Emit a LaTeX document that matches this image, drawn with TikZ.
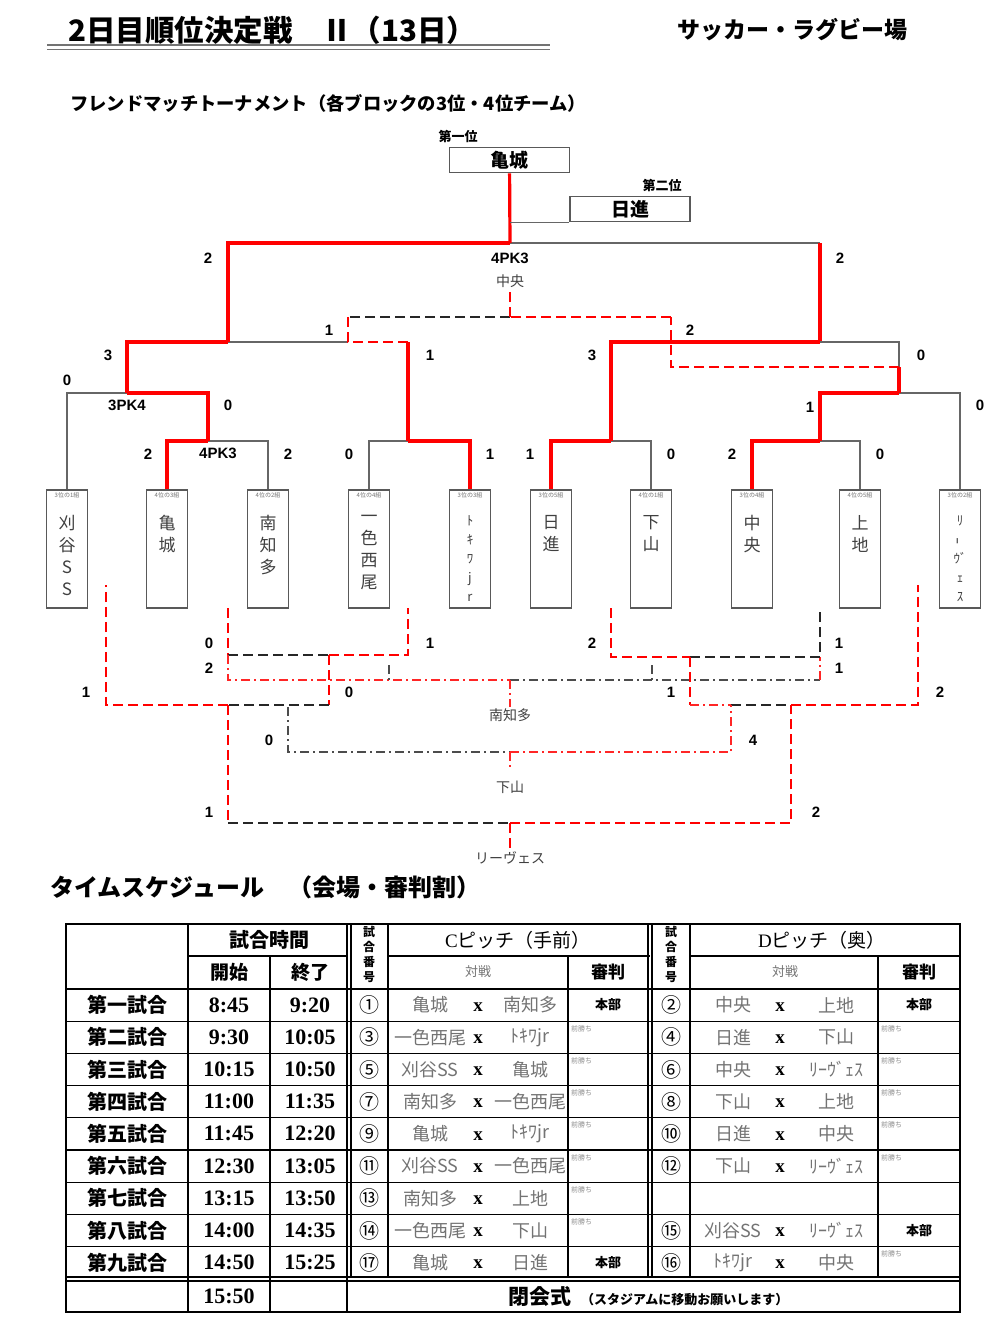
\documentclass[tikz,border=0pt]{standalone}
\usepackage{fontspec}
\setmainfont{Noto Sans CJK JP}
\newfontfamily\numfont{Liberation Sans}
\newfontfamily\timefont{Liberation Serif}
\usetikzlibrary{positioning,calc}
\newcommand\fsz[1]{\fontsize{#1}{#1}\selectfont}
\tikzset{%
  win/.style={red, line width=3.2pt},
  loss/.style={black!60, line width=1.2pt},
  rdash/.style={red, line width=2.4pt, dash pattern=on 10pt off 5pt},
  kdash/.style={black!85, line width=2.4pt, dash pattern=on 10pt off 5pt},
  rdot/.style={red!85, line width=1.3pt, dash pattern=on 9pt off 4pt on 2pt off 4pt},
  kdot/.style={black!70, line width=1.3pt, dash pattern=on 9pt off 4pt on 2pt off 4pt},
  team/.style={draw=black!65, line width=1.6pt, minimum width=41pt, minimum height=118pt, inner sep=0pt},
  tagtext/.style={font=\fsz{6}, text=black!55, inner sep=0pt},
  tname/.style={align=center, text=black!75, inner sep=0pt},
  rank/.style={draw=black!65, line width=1.6pt, minimum width=120pt, minimum height=25pt, inner sep=0pt, font=\fsz{19}\bfseries},
  ranklab/.style={font=\fsz{13}\bfseries, inner sep=0pt},
  score/.style={font=\numfont\bfseries\fsz{15}, inner sep=0pt},
  winner/.style={font=\fsz{14}, text=black!75, inner sep=1pt},
  head/.style={font=\fsz{19}\bfseries, inner sep=0pt},
  cell/.style={inner sep=0pt},
  team cell/.style={font=\fsz{18}, text=black!55, inner sep=0pt},
  vs/.style={font=\timefont\bfseries\fsz{19}, inner sep=0pt},
  boss/.style={font=\fsz{13}\bfseries, inner sep=0pt},
  prev/.style={font=\fsz{7}, text=black!45, inner sep=0pt, anchor=north west},
}

\begin{document}
\begin{tikzpicture}[x=1pt, y=-1pt]
\useasboundingbox (0,0) rectangle (992,1328);

% titles
\node[anchor=west, font=\fsz{29.5}\bfseries, inner sep=0pt] (title) at (68,30) {2日目順位決定戦　Ⅱ（13日）};
\draw[black!55, line width=1.8pt] (47,45) -- (550,45) (47,49.5) -- (550,49.5);
\node[anchor=west, font=\fsz{23}\bfseries, inner sep=0pt] (venue) at (677,30) {サッカー・ラグビー場};
\node[anchor=west, font=\fsz{18.3}\bfseries, inner sep=0pt] (sub) at (70,103) {フレンドマッチトーナメント（各ブロックの3位・4位チーム）};

% final ranking
\node[rank] (first) at (509.5,160) {亀城};
\node[ranklab] (firstlab) at (458,136) {第一位};
\node[rank] (second) at (630,209) {日進};
\node[ranklab] (secondlab) at (662,185) {第二位};

% teams
\foreach \x/\tg/\tn/\sz/\sk [count=\i] in {
  67/3位の1組/{刈\\谷\\S\\S}/17/22,
  167/4位の3組/{亀\\城}/17/22,
  268/4位の2組/{南\\知\\多}/17/22,
  369/4位の4組/{一\\色\\西\\尾}/17/22,
  470/3位の3組/{ﾄ\\ｷ\\ﾜ\\j\\r}/13/19,
  551/3位の5組/{日\\進}/17/22,
  651/4位の1組/{下\\山}/17/22,
  752/3位の4組/{中\\央}/17/22,
  860/4位の5組/{上\\地}/17/22,
  960/3位の2組/{ﾘ\\\rotatebox{90}{ｰ}\\ｳﾞ\\ｪ\\ｽ}/13/19}
{
  \node[team] (t\i) at (\x,549) {};
  \node[tagtext] (g\i) at ([yshift=-6pt]t\i.north) {\tg};
  \node[tname, font=\fontsize{\sz}{\sk}\selectfont] (m\i) [below=26pt of t\i.north] {\tn};
}

% upper bracket
\coordinate (a1) at (208,441);
\coordinate (a2) at (408,441);
\coordinate (a3) at (611,441);
\coordinate (a4) at (820,441);
\coordinate (b1) at (127,393);
\coordinate (b2) at (899,393);
\coordinate (c1) at (228,342);
\coordinate (c1r) at (348,342);
\coordinate (c2) at (820,342);
\coordinate (d1) at (510,243);
\coordinate (e1) at (510,317);
\coordinate (f1) at (899,367);
\coordinate (g1) at (671,317);

\draw[loss] (t1.north) |- (b1);
\draw[win] (t2.north) |- (a1);
\draw[loss] (t3.north) |- (a1);
\draw[win] (a1) |- (b1);
\draw[win] (b1) |- (c1);
\draw[loss] (c1) -- (c1r);
\draw[loss] (t4.north) |- (a2);
\draw[win] (t5.north) |- (a2);
\draw[win] (a2) -- (a2 |- c1);
\draw[win] (c1) |- (d1);
\draw[loss] (d1) -- (d1 -| c2);
\draw[win] (d1 -| c2) -- (c2);
\draw[win] (d1) -- (first);
\draw[loss] (second.south west) -- (second.south west -| d1);
\draw[win] (t6.north) |- (a3);
\draw[loss] (t7.north) |- (a3);
\draw[win] (a3) |- (c2);
\draw[loss] (c2) -| (f1);
\draw[win] (t8.north) |- (a4);
\draw[loss] (t9.north) |- (a4);
\draw[win] (a4) |- (b2);
\draw[loss] (b2) -| (t10.north);
\draw[win] (b2) -- (f1);

% third place
\node[winner] (third) at (510,281) {中央};
\draw[rdash] (f1) -| (g1);
\draw[rdash] (g1) -- (e1);
\draw[kdash] (e1) -- (c1r |- e1);
\draw[rdash] (c1r |- e1) -- (c1r) -- (a2 |- c1);
\draw[rdash] (e1) -- (third);

% lower bracket
\coordinate (u0) at (106,585);
\coordinate (u1) at (228,608);
\coordinate (u2) at (408,608);
\coordinate (u3) at (611,608);
\coordinate (u4) at (820,608);
\coordinate (u5) at (918,585);
\coordinate (h1) at (329,655);
\coordinate (h2) at (690,657);
\coordinate (n1) at (510,680);
\coordinate (j1) at (228,705);
\coordinate (k1) at (329,705);
\coordinate (k2) at (690,705);
\coordinate (k3) at (731,705);
\coordinate (k4) at (791,705);
\coordinate (q1) at (288,707);
\coordinate (n2) at (510,752);
\coordinate (n3) at (510,823);

\node[winner] (fifth) at (510,715) {南知多};
\node[winner] (seventh) at (510,787) {下山};
\node[winner] (ninth) at (510,858) {リーヴェス};

\draw[rdash] (u1) -- (u1 |- h1);
\draw[kdash] (u1 |- h1) -- (h1);
\draw[rdash] (h1) -| (u2);
\draw[rdot] (u1 |- h1) |- (n1);
\draw[kdot] (n1) -- (n1 -| u4);
\draw[rdot] (n1 -| u4) -- (u4 |- h2);
\draw[kdot] (389,665) -- (389,680);
\draw[kdot] (652,665) -- (652,680);
\draw[rdot] (n1) -- (fifth);
\draw[rdash] (u3) |- (h2);
\draw[kdash] (h2) -| (u4);
\draw[rdash] (h1) -- (k1);
\draw[kdash] (k1) -- (j1);
\draw[rdash] (j1) -| (u0);
\draw[rdash] (h2) -- (k2);
\draw[rdot] (k2) -- (k3);
\draw[kdash] (k3) -- (k4);
\draw[rdash] (k4) -| (u5);
\draw[kdot] (q1) |- (n2);
\draw[rdot] (n2) -| (k3);
\draw[rdot, shorten >=10pt] (n2) -- (seventh);
\draw[rdash] (j1) -- (j1 |- n3);
\draw[kdash] (j1 |- n3) -- (n3);
\draw[rdash] (n3) -| (k4);
\draw[rdash] (n3) -- (ninth);

% scores
\foreach \x/\y/\s [count=\i] in {208/258/2, 840/258/2, 510/258/4PK3, 329/330/1, 690/330/2,
  108/355/3, 430/355/1, 592/355/3, 921/355/0, 67/380/0, 127/405/3PK4, 228/405/0,
  810/407/1, 980/405/0, 148/454/2, 218/453/4PK3, 288/454/2, 349/454/0, 490/454/1,
  530/454/1, 671/454/0, 732/454/2, 880/454/0, 209/643/0, 430/643/1, 592/643/2,
  839/643/1, 209/668/2, 839/668/1, 86/692/1, 349/692/0, 671/692/1, 940/692/2,
  269/740/0, 753/740/4, 209/812/1, 816/812/2}
  \node[score] (s\i) at (\x,\y) {\s};

% time schedule
\node[anchor=west, font=\fsz{24}\bfseries, inner sep=0pt] (sched) at (50,887) {タイムスケジュール　（会場・審判割）};

\draw[line width=2.6pt] (66,924) rectangle (960,1312);
\draw[line width=1.3pt]
  (188,956) -- (348,956) (388,956) -- (650,956) (690,956) -- (960,956)
  (66,989) -- (960,989)
  \foreach \i in {1,...,8} { (66,{989+32.2*\i}) -- (960,{989+32.2*\i}) }
  (66,1277) -- (960,1277) (66,1281) -- (960,1281)
  (188,924) -- (188,1312) (270,956) -- (270,1312)
  (347,924) -- (347,1312) (351,924) -- (351,1277)
  (388,924) -- (388,1277) (568,956) -- (568,1277)
  (648,924) -- (648,1277) (652,924) -- (652,1277)
  (690,924) -- (690,1277) (878,956) -- (878,1277);

\node[head, font=\fsz{20}\bfseries] (hTime) at (269,940) {試合時間};
\node[head] (hStart) at (229,972) {開始};
\node[head] (hEnd) at (310,972) {終了};
\node[head, font=\fsz{19}] (hC) at (518,940) {{\timefont C}ピッチ（手前）};
\node[head, font=\fsz{19}] (hD) at (822,940) {{\timefont D}ピッチ（奥）};
\node[cell, font=\fsz{13}, text=black!55] (hCvs) at (478,972) {対戦};
\node[cell, font=\fsz{13}, text=black!55] (hDvs) at (785,972) {対戦};
\node[head, font=\fsz{17}\bfseries] (hCref) at (608,972) {審判};
\node[head, font=\fsz{17}\bfseries] (hDref) at (919,972) {審判};
\foreach \c/\y [count=\i] in {試/932, 合/947, 番/962, 号/977} {
  \node[cell, font=\fsz{12}\bfseries] (nc\i) at (369,\y) {\c};
  \node[cell, font=\fsz{12}\bfseries] (nd\i) at (671,\y) {\c};
}

\foreach \lab/\st/\en/\cno/\ta/\tb [count=\i] in {
  第一試合/8:45/9:20/①/亀城/南知多,
  第二試合/9:30/10:05/③/一色西尾/ﾄｷﾜjr,
  第三試合/10:15/10:50/⑤/刈谷SS/亀城,
  第四試合/11:00/11:35/⑦/南知多/一色西尾,
  第五試合/11:45/12:20/⑨/亀城/ﾄｷﾜjr,
  第六試合/12:30/13:05/⑪/刈谷SS/一色西尾,
  第七試合/13:15/13:50/⑬/南知多/上地,
  第八試合/14:00/14:35/⑭/一色西尾/下山,
  第九試合/14:50/15:25/⑰/亀城/日進}
{
  \pgfmathsetmacro\yy{1005+32.2*(\i-1)}
  \node[cell, font=\fsz{20}\bfseries] (row\i) at (127,\yy) {\lab};
  \node[cell, font=\timefont\bfseries\fsz{22}] (st\i) at (229,\yy) {\st};
  \node[cell, font=\timefont\bfseries\fsz{22}] (en\i) at (310,\yy) {\en};
  \node[cell, font=\fsz{20}] (cn\i) at (369,\yy) {\cno};
  \node[team cell] (ca\i) at (430,\yy) {\ta};
  \node[vs] (cx\i) at (478,\yy+2) {x};
  \node[team cell] (cb\i) at (530,\yy) {\tb};
}

\foreach \i/\cno/\ta/\tb in {1/②/中央/上地, 2/④/日進/下山, 3/⑥/中央/ﾘｰｳﾞｪｽ,
  4/⑧/下山/上地, 5/⑩/日進/中央, 6/⑫/下山/ﾘｰｳﾞｪｽ, 8/⑮/刈谷SS/ﾘｰｳﾞｪｽ, 9/⑯/ﾄｷﾜjr/中央}
{
  \pgfmathsetmacro\yy{1005+32.2*(\i-1)}
  \node[cell, font=\fsz{20}] (dn\i) at (671,\yy) {\cno};
  \node[team cell] (da\i) at (733,\yy) {\ta};
  \node[vs] (dx\i) at (780,\yy+2) {x};
  \node[team cell] (db\i) at (836,\yy) {\tb};
}

\foreach \i in {1,9} \node[boss] (hc\i) at (608,{1005+32.2*(\i-1)}) {本部};
\foreach \i in {1,8} \node[boss] (hd\i) at (919,{1005+32.2*(\i-1)}) {本部};
\foreach \i in {2,...,8} \node[prev] (mc\i) at (571,{993+32.2*(\i-1)}) {前勝ち};
\foreach \i in {2,3,4,5,6,9} \node[prev] (md\i) at (881,{993+32.2*(\i-1)}) {前勝ち};

\node[cell, font=\timefont\bfseries\fsz{22}] (close) at (229,1296) {15:50};
\node[cell, anchor=west, font=\fsz{21}\bfseries] (ceremony) at (508,1296)
  {閉会式\hspace{10pt}{\fsz{13}（スタジアムに移動お願いします）}};
\end{tikzpicture}
\end{document}
